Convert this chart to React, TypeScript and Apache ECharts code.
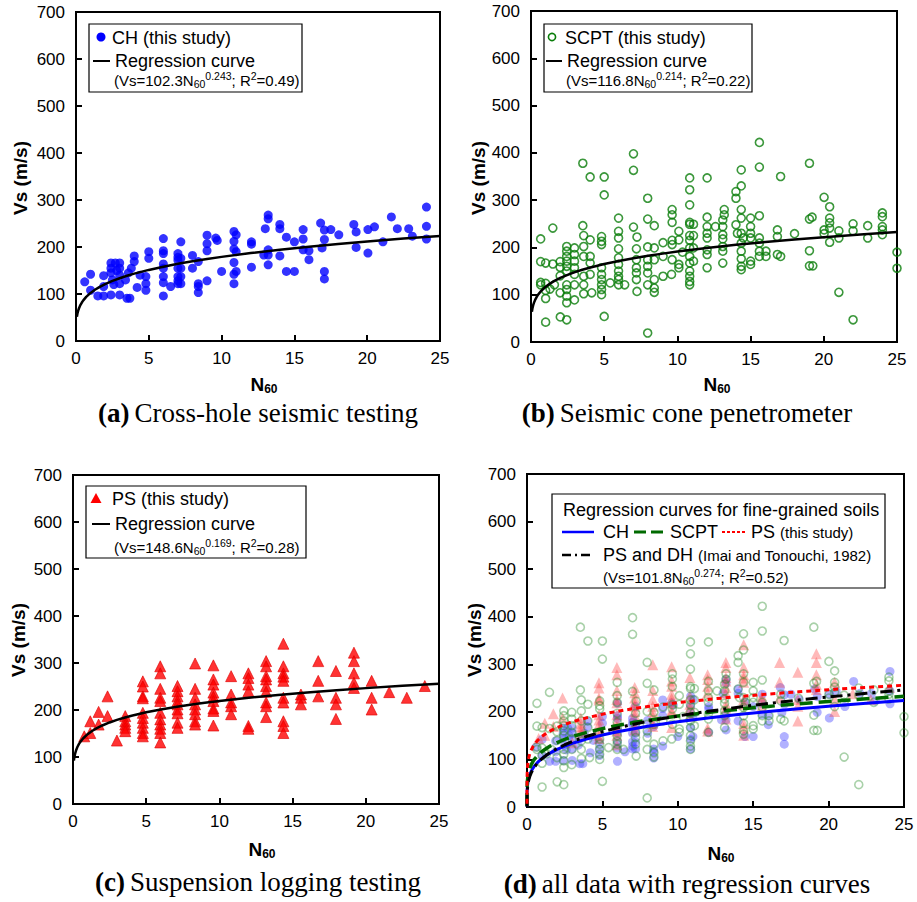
import React, { useEffect, useRef } from 'react';
import * as echarts from 'echarts';

const SANS = '"Liberation Sans", Arial, Helvetica, sans-serif';
const SERIF = '"Liberation Serif", "Times New Roman", serif';

// ---------- data: [N60, Vs (m/s)] ----------
const chPoints: number[][] = [
  [0.6,126],[1.0,142],[1.0,108],[1.5,96],[1.9,96],[1.9,139],[1.9,116],[2.4,166],[2.7,166],[3.0,166],
  [2.4,155],[2.4,145],[2.5,130],[2.6,120],[2.8,150],[3.0,155],[3.0,140],[2.4,98],[3.0,98],[3.0,122],
  [3.5,91],[3.7,91],[3.4,130],[3.6,145],[4.0,181],[4.0,169],[3.8,155],[4.2,114],[4.8,108],[4.8,122],
  [4.8,137],[4.4,140],[5.0,190],[5.0,176],[6.0,218],[6.0,192],[6.0,186],[6.0,164],[6.0,155],[6.0,137],
  [6.0,124],[6.0,96],[6.5,116],[7.0,186],[7.0,178],[7.0,172],[7.0,155],[7.0,137],[7.0,128],[7.0,122],
  [7.2,211],[7.2,176],[7.2,155],[7.2,137],[7.2,122],[8.0,182],[8.0,155],[8.4,169],[8.4,122],[8.4,116],
  [8.4,103],[9.0,225],[9.0,207],[9.0,192],[9.0,128],[9.6,219],[9.7,214],[10.0,148],[10.85,233],[11.0,226],
  [10.85,212],[10.85,196],[11.0,190],[10.85,167],[11.0,148],[10.85,142],[10.85,122],[12.05,211],[12.05,206],[12.05,157],
  [13.0,239],[13.2,268],[13.2,260],[13.2,194],[13.2,183],[12.9,183],[13.2,162],[14.0,248],[14.0,239],[14.0,181],
  [14.45,221],[14.45,148],[15.0,211],[15.0,148],[15.6,237],[15.6,217],[15.6,194],[16.0,192],[16.0,173],[16.8,251],
  [17.06,236],[17.06,216],[16.9,198],[17.06,148],[17.06,132],[17.5,237],[18.05,226],[19.08,248],[19.24,232],[19.24,199],
  [20.05,237],[20.05,187],[20.5,243],[21.08,211],[21.66,264],[22.07,239],[22.85,239],[23.1,223],[24.07,285],[24.07,244],
  [24.07,217]
];

const scptPoints: number[][] = [
  [0.66,218],[0.66,170],[0.66,126],[0.66,121],[1.0,167],[1.0,124],[1.0,109],[1.0,92],[1.0,42],[1.49,241],
  [1.49,165],[1.3,112],[1.6,121],[1.99,170],[1.99,158],[1.99,140],[1.99,104],[2.0,53],[2.44,202],[2.44,192],
  [2.44,181],[2.44,171],[2.44,160],[2.44,150],[2.44,121],[2.44,111],[2.44,97],[2.44,83],[2.44,47],[2.97,199],
  [2.97,185],[2.97,171],[2.97,157],[2.97,143],[2.97,121],[2.97,89],[3.54,378],[3.54,246],[3.6,225],[3.6,202],
  [3.6,181],[3.6,139],[3.6,121],[3.6,102],[4.04,349],[4.04,216],[4.04,181],[4.04,167],[4.04,143],[4.15,104],
  [4.82,223],[4.82,213],[4.82,206],[4.82,157],[4.82,143],[4.82,132],[4.82,121],[4.82,111],[4.82,100],[5.0,349],
  [5.0,311],[5.0,54],[5.41,125],[5.98,262],[5.98,234],[5.98,220],[5.98,197],[5.98,178],[5.98,164],[5.98,150],
  [5.98,139],[5.98,132],[5.98,121],[6.4,121],[7.0,398],[7.0,363],[7.0,243],[7.24,222],[7.2,197],[7.2,174],
  [7.2,157],[7.2,146],[7.2,132],[7.24,107],[7.97,304],[7.97,260],[7.97,201],[7.97,174],[7.97,160],[7.97,146],
  [7.97,121],[7.97,19],[8.42,246],[8.42,199],[8.42,174],[8.42,132],[8.42,114],[8.42,105],[9.02,210],[9.02,181],
  [9.02,139],[9.64,280],[9.64,269],[9.64,253],[9.64,215],[9.64,206],[9.64,174],[9.6,143],[10.1,234],[10.1,216],
  [10.1,164],[10.1,157],[10.35,190],[10.84,347],[10.84,322],[10.84,290],[10.84,253],[10.84,249],[10.84,225],[10.84,215],
  [10.84,199],[10.84,181],[10.84,167],[10.84,150],[10.84,139],[10.84,128],[10.84,121],[11.1,249],[11.1,225],[11.1,199],
  [11.1,171],[12.03,347],[12.03,264],[12.03,244],[12.03,230],[12.03,220],[12.03,195],[12.03,185],[12.03,157],[12.6,244],
  [13.1,258],[13.1,244],[13.1,227],[13.1,218],[13.1,202],[13.1,192],[13.1,167],[13.2,280],[13.2,269],[14.0,318],
  [14.0,304],[14.0,248],[14.1,230],[14.5,220],[14.36,364],[14.36,330],[14.36,280],[14.36,262],[14.36,230],[14.36,209],
  [14.36,192],[14.36,176],[14.36,160],[14.36,153],[15.0,262],[15.0,244],[15.0,230],[15.0,220],[15.0,171],[15.0,164],
  [15.6,422],[15.6,370],[15.6,267],[15.6,220],[15.6,209],[15.6,192],[15.6,181],[16.05,192],[16.05,181],[16.83,237],
  [16.83,223],[17.05,350],[16.83,185],[17.05,181],[18.0,229],[19.02,378],[19.02,260],[19.2,264],[19.02,193],[19.02,161],
  [19.25,161],[20.02,306],[20.02,237],[20.02,229],[20.4,286],[20.4,262],[20.4,252],[20.4,241],[20.4,211],[21.03,235],
  [21.03,220],[21.03,105],[22.0,250],[22.0,235],[22.0,47],[23.0,246],[23.0,220],[24.0,273],[24.0,265],[24.0,244],
  [24.0,237],[24.0,227],[25.0,190],[25.0,156]
];

const psPoints: number[][] = [
  [0.77,144],[1.18,151],[1.18,176],[1.75,196],[1.75,169],[2.36,229],[2.36,187],[3.0,135],[3.57,187],[3.57,176],
  [3.57,169],[3.57,162],[3.57,155],[4.77,261],[4.77,250],[4.77,229],[4.77,225],[4.77,194],[4.77,183],[4.77,173],
  [4.77,162],[4.77,151],[4.77,144],[5.96,293],[5.96,278],[5.96,245],[5.96,226],[5.96,219],[5.96,194],[5.96,180],
  [5.96,169],[5.96,160],[5.96,151],[5.96,131],[7.14,251],[7.14,240],[7.14,229],[7.14,219],[7.14,212],[7.14,201],
  [7.14,193],[7.14,173],[7.14,162],[8.34,299],[8.34,245],[8.34,226],[8.34,212],[8.34,201],[8.34,191],[8.34,176],
  [8.34,169],[9.59,295],[9.59,265],[9.59,254],[9.59,237],[9.59,228],[9.59,219],[9.59,203],[9.59,198],[9.59,167],
  [10.8,272],[10.8,233],[10.8,216],[10.8,208],[10.8,191],[11.98,278],[11.98,268],[11.98,254],[11.98,240],[11.98,166],
  [11.98,160],[13.19,304],[13.19,293],[13.19,272],[13.19,265],[13.19,251],[13.19,239],[13.19,216],[13.19,208],[13.19,185],
  [14.37,341],[14.37,293],[14.37,278],[14.37,271],[14.37,262],[14.37,226],[14.37,216],[14.37,176],[14.37,166],[14.37,151],
  [15.57,233],[15.57,226],[15.57,212],[16.75,304],[16.75,262],[16.75,229],[17.96,283],[17.96,226],[17.96,212],[17.96,181],
  [19.19,322],[19.19,304],[19.19,278],[19.19,258],[19.19,247],[20.4,262],[20.4,226],[20.4,201],[21.6,238],[22.8,226],
  [24.03,251]
];

// regression coefficients shown in the legends: Vs = a * N60^b
const chCoef = [102.3, 0.243];
const scptCoef = [116.8, 0.214];
const psCoef = [148.6, 0.169];
const imaiCoef = [101.8, 0.274];

// N60 values at which the regression curves are drawn
const curveN = [1e-8, 1e-6, 1e-4, 0.001, 0.005, 0.01, 0.02, 0.04, 0.06, 0.1, 0.15, 0.2, 0.3, 0.4, 0.5, 0.7,
  1, 1.3, 1.6, 2, 2.5, 3, 3.5, 4, 5, 6, 7, 8, 9, 10, 12, 14, 16, 18, 20, 22.5, 25];

const xTicks = { min: 0, max: 25, interval: 5 };
const yTicks = { min: 0, max: 700, interval: 100 };

const curve = (coef: number[], minN: number) =>
  curveN.filter((n) => n >= minN).map((n) => [n, coef[0] * Math.pow(n, coef[1])]);

const grids = [
  { left: 76, top: 12, width: 364, height: 329 },
  { left: 531, top: 11, width: 366, height: 331 },
  { left: 73, top: 475, width: 366, height: 329 },
  { left: 527, top: 474, width: 377, height: 333 },
];

const formulaRich = {
  a: { fontSize: 15, fontFamily: SANS, color: '#000', lineHeight: 19 },
  sub: { fontSize: 10.5, fontFamily: SANS, color: '#000', lineHeight: 10, verticalAlign: 'bottom' },
  sup: { fontSize: 10.5, fontFamily: SANS, color: '#000', lineHeight: 10, verticalAlign: 'top' },
};

const formula = (a: string, b: string, r2: string) =>
  `{a|(Vs=${a}N}{sub|60}{sup|${b}}{a|; R}{sup|2}{a|=${r2})}`;

function text(x: number, y: number, str: string, extra: any = {}, rich?: any, rotation = 0) {
  return {
    type: 'text', x, y, rotation, z: 100,
    style: {
      text: str, fill: '#000', fontFamily: SANS, fontSize: 18,
      textAlign: 'left', textVerticalAlign: 'middle', rich, ...extra,
    },
  };
}

function box(x: number, y: number, w: number, h: number) {
  return { type: 'rect', z: 90, shape: { x, y, width: w, height: h }, style: { fill: '#fff', stroke: '#000', lineWidth: 1.2 } };
}

function seg(x1: number, y1: number, x2: number, y2: number, stroke: string, lineWidth: number, lineDash?: number[]) {
  return { type: 'line', z: 100, shape: { x1, y1, x2, y2 }, style: { stroke, lineWidth, lineDash } };
}

const axisTitleRich = {
  n: { fontSize: 19, fontWeight: 'bold', fontFamily: SANS, color: '#000', lineHeight: 22 },
  s: { fontSize: 12, fontWeight: 'bold', fontFamily: SANS, color: '#000', lineHeight: 12, verticalAlign: 'bottom' },
};
const titleRich = {
  b: { fontSize: 27, fontWeight: 'bold', fontFamily: SERIF, color: '#000' },
  r: { fontSize: 27, fontFamily: SERIF, color: '#000' },
};
const legDRich = {
  a: { fontSize: 18, fontFamily: SANS, color: '#000' },
  b: { fontSize: 15, fontFamily: SANS, color: '#000' },
};

export default function App() {
  const ref = useRef<HTMLDivElement>(null);
  useEffect(() => {
    if (!ref.current) return;
    const chart = echarts.init(ref.current, null, { renderer: 'svg' });

    const xAxes = grids.map((_, i) => ({
      type: 'value', gridIndex: i, ...xTicks,
      axisLine: { show: true, onZero: false, lineStyle: { color: '#000', width: 2 } },
      axisTick: { show: true, inside: true, length: 6, lineStyle: { color: '#000', width: 2 } },
      axisLabel: { color: '#000', fontSize: 17, fontFamily: SANS, margin: 9 },
      splitLine: { show: false },
    }));
    const yAxes = grids.map((_, i) => ({
      type: 'value', gridIndex: i, ...yTicks,
      axisLine: { show: true, onZero: false, lineStyle: { color: '#000', width: 2 } },
      axisTick: { show: true, inside: true, length: 6, lineStyle: { color: '#000', width: 2 } },
      axisLabel: { color: '#000', fontSize: 17, fontFamily: SANS, margin: 11 },
      splitLine: { show: false },
    }));

    const blackCurve = (coef: number[], gi: number) => ({
      type: 'line', xAxisIndex: gi, yAxisIndex: gi, data: curve(coef, 0.06),
      showSymbol: false, symbol: 'none', z: 5, lineStyle: { color: '#000', width: 2.5 },
    });

    const series: any[] = [
      { type: 'scatter', xAxisIndex: 0, yAxisIndex: 0, data: chPoints, symbol: 'circle', symbolSize: 9, itemStyle: { color: '#0000ff' } },
      blackCurve(chCoef, 0),
      { type: 'scatter', xAxisIndex: 1, yAxisIndex: 1, data: scptPoints, symbol: 'circle', symbolSize: 8,
        itemStyle: { color: 'rgba(0,0,0,0)', borderColor: '#0a7d0a', borderWidth: 1.6 } },
      blackCurve(scptCoef, 1),
      { type: 'scatter', xAxisIndex: 2, yAxisIndex: 2, data: psPoints, symbol: 'triangle', symbolSize: 11,
        itemStyle: { color: '#ff0000', borderColor: '#e00000', borderWidth: 0.8 } },
      blackCurve(psCoef, 2),
      // (d) all data
      { type: 'scatter', xAxisIndex: 3, yAxisIndex: 3, data: chPoints, symbol: 'circle', symbolSize: 9, itemStyle: { color: 'rgba(60,60,255,0.5)' } },
      { type: 'scatter', xAxisIndex: 3, yAxisIndex: 3, data: psPoints, symbol: 'triangle', symbolSize: 11, itemStyle: { color: 'rgba(255,60,60,0.45)' } },
      { type: 'scatter', xAxisIndex: 3, yAxisIndex: 3, data: scptPoints, symbol: 'circle', symbolSize: 8,
        itemStyle: { color: 'rgba(0,0,0,0)', borderColor: 'rgba(40,140,40,0.5)', borderWidth: 1.6 } },
      { type: 'line', xAxisIndex: 3, yAxisIndex: 3, data: curve(chCoef, 0), showSymbol: false, symbol: 'none', z: 6,
        lineStyle: { color: '#0000ff', width: 3 } },
      { type: 'line', xAxisIndex: 3, yAxisIndex: 3, data: curve(scptCoef, 0), showSymbol: false, symbol: 'none', z: 6,
        lineStyle: { color: '#006a00', width: 3.5, type: [13, 6] } },
      { type: 'line', xAxisIndex: 3, yAxisIndex: 3, data: curve(imaiCoef, 0), showSymbol: false, symbol: 'none', z: 6,
        lineStyle: { color: '#000', width: 3, type: [12, 5, 3, 5] } },
      { type: 'line', xAxisIndex: 3, yAxisIndex: 3, data: curve(psCoef, 0), showSymbol: false, symbol: 'none', z: 6,
        lineStyle: { color: '#ff0000', width: 3, type: [5, 4] } },
    ];

    const graphic: any[] = [
      // axis titles
      text(20, 178, 'Vs (m/s)', { fontSize: 19, fontWeight: 'bold', textAlign: 'center' }, undefined, Math.PI / 2),
      text(478, 178, 'Vs (m/s)', { fontSize: 19, fontWeight: 'bold', textAlign: 'center' }, undefined, Math.PI / 2),
      text(18, 640, 'Vs (m/s)', { fontSize: 19, fontWeight: 'bold', textAlign: 'center' }, undefined, Math.PI / 2),
      text(474, 640, 'Vs (m/s)', { fontSize: 19, fontWeight: 'bold', textAlign: 'center' }, undefined, Math.PI / 2),
      text(264, 384, '{n|N}{s|60}', { textAlign: 'center' }, axisTitleRich),
      text(717, 384, '{n|N}{s|60}', { textAlign: 'center' }, axisTitleRich),
      text(262, 849, '{n|N}{s|60}', { textAlign: 'center' }, axisTitleRich),
      text(721, 853, '{n|N}{s|60}', { textAlign: 'center' }, axisTitleRich),
      // panel titles
      text(258, 413, '{b|(a)} {r|Cross-hole seismic testing}', { textAlign: 'center' }, titleRich),
      text(687, 413, '{b|(b)} {r|Seismic cone penetrometer}', { textAlign: 'center' }, titleRich),
      text(258, 882, '{b|(c)} {r|Suspension logging testing}', { textAlign: 'center' }, titleRich),
      text(687, 884, '{b|(d)} {r|all data with regression curves}', { textAlign: 'center' }, titleRich),

      // legend (a)
      box(89, 24, 213, 68),
      { type: 'circle', z: 100, shape: { cx: 101, cy: 37, r: 4.5 }, style: { fill: '#0000ff' } },
      text(112, 38, 'CH (this study)'),
      seg(93, 61, 110, 61, '#000', 2),
      text(115, 61, 'Regression curve'),
      text(114, 80, formula('102.3', '0.243', '0.49'), {}, formulaRich),

      // legend (b)
      box(544, 24, 208, 68),
      { type: 'circle', z: 100, shape: { cx: 552, cy: 37, r: 3.6 }, style: { fill: 'none', stroke: '#0a7d0a', lineWidth: 1.6 } },
      text(565, 38, 'SCPT (this study)'),
      seg(546, 61, 562, 61, '#000', 2),
      text(567, 61, 'Regression curve'),
      text(566, 80, formula('116.8', '0.214', '0.22'), {}, formulaRich),

      // legend (c)
      box(86, 486, 220, 72),
      { type: 'polygon', z: 100, shape: { points: [[96, 493], [90.5, 503], [101.5, 503]] }, style: { fill: '#ff0000' } },
      text(112, 499, 'PS (this study)'),
      seg(92, 524, 110, 524, '#000', 2),
      text(115, 524, 'Regression curve'),
      text(114, 547, formula('148.6', '0.169', '0.28'), {}, formulaRich),

      // legend (d)
      box(552, 494, 333, 94),
      text(563, 510, 'Regression curves for fine-grained soils'),
      seg(562, 532, 594, 532, '#0000ff', 2.5),
      text(603, 532, 'CH'),
      seg(634, 532, 665, 532, '#006a00', 3, [12, 5]),
      text(670, 532, 'SCPT'),
      seg(722, 532, 747, 532, '#ff0000', 2, [3, 2]),
      text(751, 532, '{a|PS }{b|(this study)}', {}, legDRich),
      seg(562, 555, 594, 555, '#000', 2.5, [9, 4, 2, 4]),
      text(603, 555, '{a|PS and DH }{b|(Imai and Tonouchi, 1982)}', {}, legDRich),
      text(603, 577, formula('101.8', '0.274', '0.52'), {}, formulaRich),
    ];

    chart.setOption({
      animation: false,
      backgroundColor: '#fff',
      grid: grids.map((g) => ({ ...g, show: true, borderColor: '#000', borderWidth: 2, backgroundColor: 'rgba(0,0,0,0)' })),
      xAxis: xAxes,
      yAxis: yAxes,
      series,
      graphic,
    } as any);
    return () => chart.dispose();
  }, []);
  return <div ref={ref} style={{ position: 'absolute', left: 0, top: 0, width: 917, height: 902 }} />;
}
